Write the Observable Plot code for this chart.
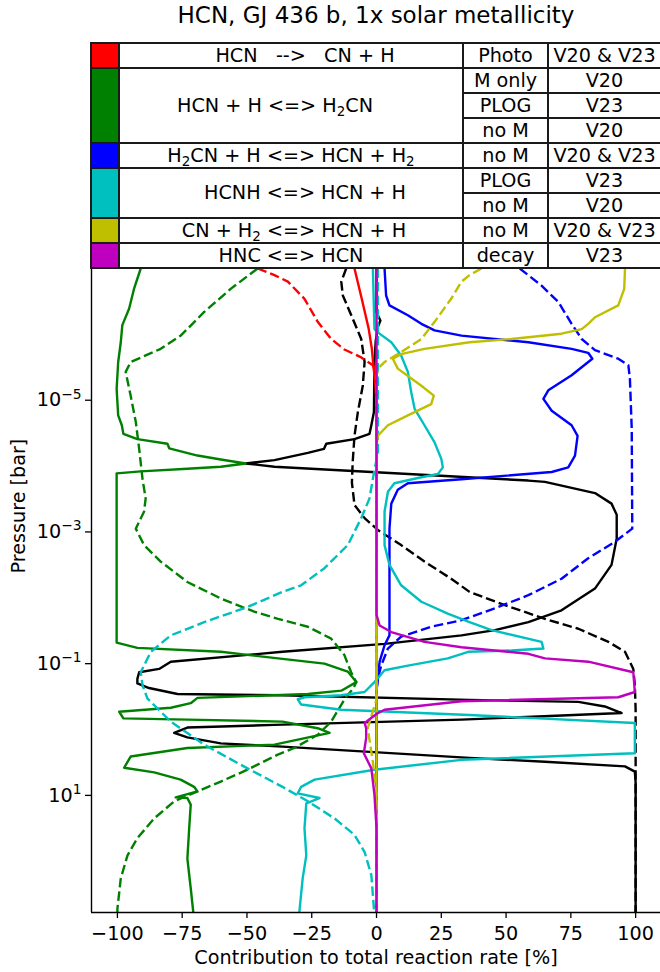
<!DOCTYPE html>
<html>
<head>
<meta charset="utf-8">
<script src="https://cdn.jsdelivr.net/npm/d3@7"></script>
<script src="https://cdn.jsdelivr.net/npm/@observablehq/plot@0.6"></script>
<style>
  html, body { margin:0; padding:0; background:#fff; }
  body { width:660px; height:972px; overflow:hidden; position:relative; font-family:"DejaVu Sans", sans-serif; color:#000; }
  #title { position:absolute; left:91px; width:570px; top:0; height:42px; text-align:center; font-size:23px; line-height:30px; }
  #legend { position:absolute; left:0; top:0; width:660px; height:270px; z-index:2; overflow:hidden; }
  .cell { position:absolute; box-sizing:border-box; border:2px solid #1a1a1a; display:flex; align-items:center; justify-content:center; font-size:19.2px; white-space:pre; background:#fff; }
  .cell span { display:inline-block; line-height:1; }
  .cell sub { font-size:70%; vertical-align:-0.28em; line-height:0; }
  #chart { position:absolute; left:0; top:268px; z-index:1; }
</style>
</head>
<body>
<div id="title">HCN, GJ 436 b, 1x solar metallicity</div>
<div id="legend"></div>
<div id="chart"></div>
<script>
// ---------------- legend table data ----------------
const reactionColors = ["#ff0000", "#008000", "#0000ff", "#00bfbf", "#bfbf00", "#bf00bf"];
const reactionLabels = [
  "HCN   -->   CN + H",
  "HCN + H <=> H<sub>2</sub>CN",
  "H<sub>2</sub>CN + H <=> HCN + H<sub>2</sub>",
  "HCNH <=> HCN + H",
  "CN + H<sub>2</sub> <=> HCN + H",
  "HNC <=> HCN"
];
const reactionRowSpans = [1, 3, 1, 2, 1, 1];
const rateTypes = ["Photo", "M only", "PLOG", "no M", "no M", "PLOG", "no M", "no M", "decay"];
const references = ["V20 & V23", "V20", "V23", "V20", "V20 & V23", "V23", "V20", "V20 & V23", "V23"];

// ---------------- profiles: [contribution %, log10 pressure (bar)] ----------------
const totalV20 = [[-11.7,-7.00],[-13.6,-6.80],[-13.0,-6.59],[-9.2,-6.24],[-5.9,-5.93],[-4.6,-5.58],[-5.3,-5.22],[-7.2,-4.82],[-8.5,-4.46],[-9.2,-4.06],[-9.5,-3.75],[-8.5,-3.41],[-4.6,-3.21],[0.5,-3.03],[9.5,-2.80],[18.5,-2.55],[28.8,-2.29],[35.9,-2.09],[49.5,-1.89],[65.0,-1.68],[77.9,-1.53],[89.5,-1.33],[95.9,-1.18],[99.1,-0.92],[99.7,-0.67],[100,-0.30],[100,2.78]];
const totalV23 = [[0,-7.00],[0,-6.34],[0.5,-6.29],[1.5,-6.21],[0.5,-6.11],[-0.3,-5.90],[-0.8,-5.58],[-1.0,-4.82],[-2.0,-4.62],[-2.7,-4.49],[-8.5,-4.41],[-19.4,-4.34],[-20.3,-4.26],[-26.5,-4.20],[-39.4,-4.09],[-50.5,-4.04],[-39.4,-3.99],[58.6,-3.78],[65.0,-3.76],[84.3,-3.59],[90.7,-3.43],[92.7,-3.26],[92.7,-2.90],[90.7,-2.50],[84.3,-2.14],[71.4,-1.81],[58.6,-1.63],[45.7,-1.51],[32.8,-1.43],[3.1,-1.30],[-36.3,-1.18],[-79.4,-1.03],[-83.9,-0.92],[-91.6,-0.87],[-92.3,-0.77],[-92.3,-0.70],[-87.8,-0.63],[-76.8,-0.54],[-36.3,-0.52],[35.9,-0.45],[77.9,-0.42],[88.1,-0.35],[94.6,-0.25],[32.8,-0.15],[-39.4,-0.07],[-73.0,-0.03],[-78.1,0.05],[-73.0,0.12],[-60.1,0.21],[-36.3,0.26],[35.9,0.43],[65.0,0.49],[95.9,0.56],[99.7,0.64],[100,0.80],[100,2.78]];
const photoV20 = [[-45.9,-7.00],[-39.4,-6.90],[-34.2,-6.80],[-27.8,-6.54],[-22.7,-6.19],[-17.5,-5.93],[-12.4,-5.77],[-5.9,-5.65],[-1.4,-5.53],[0,-5.38],[0,2.78]];
const photoV23 = [[-8.5,-7.00],[-5.7,-6.54],[-3.0,-6.08],[-1.8,-5.78],[-1.2,-5.53],[-0.4,-5.22],[0,-4.90],[0,2.78]];
const h2cnFormV20 = [[-45.9,-7.00],[-56.3,-6.69],[-66.5,-6.34],[-75.6,-5.98],[-83.3,-5.78],[-94.9,-5.58],[-96.8,-5.43],[-94.9,-5.07],[-92.9,-4.67],[-91.6,-4.26],[-90.3,-3.80],[-89.1,-3.51],[-89.7,-3.31],[-92.9,-3.05],[-89.7,-2.80],[-83.3,-2.55],[-73.0,-2.24],[-60.1,-1.99],[-47.2,-1.79],[-38.0,-1.68],[-26.5,-1.56],[-17.5,-1.38],[-12.4,-1.13],[-9.8,-0.87],[-7.8,-0.72],[-9.0,-0.62],[-11.7,-0.50],[-17.5,-0.12],[-22.7,0.08],[-31.7,0.28],[-38.1,0.38],[-49.8,0.61],[-60.1,0.79],[-69.1,0.94],[-78.1,1.09],[-85.8,1.35],[-92.3,1.65],[-96.1,1.91],[-98.7,2.26],[-100,2.72],[-100,2.78]];
const h2cnFormV23 = [[-91.0,-7.00],[-93.6,-6.69],[-95.5,-6.39],[-98.1,-6.14],[-98.7,-5.88],[-99.7,-5.58],[-100.3,-5.17],[-99.7,-4.77],[-98.3,-4.62],[-97.7,-4.49],[-92.3,-4.41],[-80.7,-4.34],[-80.0,-4.27],[-69.1,-4.16],[-60.1,-4.10],[-50.5,-4.04],[-60.1,-3.99],[-73.0,-3.96],[-91.0,-3.92],[-100.3,-3.89],[-100.3,-1.32],[-92.3,-1.24],[-60.1,-1.18],[-38.0,-1.08],[-20.1,-1.00],[-11.1,-0.88],[-7.8,-0.72],[-13.6,-0.59],[-26.5,-0.54],[-39.4,-0.52],[-69.1,-0.48],[-71.7,-0.40],[-79.4,-0.33],[-99.3,-0.27],[-97.7,-0.17],[-73.0,-0.15],[-36.3,-0.12],[-22.7,-0.02],[-18.1,0.05],[-39.4,0.23],[-73.0,0.28],[-94.9,0.41],[-97.4,0.58],[-85.8,0.65],[-75.6,0.76],[-70.4,0.87],[-69.1,0.94],[-77.5,1.03],[-73.0,1.04],[-71.7,1.14],[-72.3,1.50],[-73.0,1.96],[-71.7,2.41],[-70.7,2.78]];
const h2cnLossV20 = [[55.3,-7.00],[63.7,-6.74],[70.2,-6.49],[75.3,-6.16],[79.2,-5.93],[84.3,-5.76],[93.3,-5.63],[97.2,-5.53],[97.8,-5.32],[98.5,-4.56],[98.7,-3.05],[92.0,-2.85],[81.7,-2.60],[71.4,-2.29],[58.6,-2.04],[45.7,-1.84],[32.8,-1.66],[21.1,-1.56],[9.5,-1.41],[4.4,-1.23],[1.8,-0.97],[0.5,-0.77],[0,-0.60],[0,2.78]];
const h2cnLossV23 = [[3.1,-7.00],[3.7,-6.59],[5.0,-6.44],[12.1,-6.29],[17.3,-6.16],[22.4,-6.06],[32.8,-5.98],[58.6,-5.88],[75.3,-5.78],[81.7,-5.72],[83.3,-5.63],[75.3,-5.38],[66.3,-5.15],[64.4,-5.02],[67.6,-4.84],[75.3,-4.62],[77.6,-4.46],[76.6,-4.16],[74.0,-3.98],[67.6,-3.91],[32.8,-3.80],[12.1,-3.74],[8.2,-3.64],[5.7,-3.43],[5.0,-3.05],[5.0,-1.43],[3.1,-1.28],[1.2,-1.03],[0.5,-0.77],[0,-0.60],[0,2.78]];
const hcnhV20 = [[0.5,-7.00],[0.5,-4.20],[-1.4,-3.81],[-2.7,-3.51],[-5.9,-3.21],[-11.1,-2.80],[-20.1,-2.45],[-29.1,-2.19],[-36.3,-2.09],[-49.8,-1.86],[-66.5,-1.63],[-79.4,-1.43],[-87.1,-1.18],[-91.0,-0.87],[-90.3,-0.67],[-88.4,-0.47],[-79.4,-0.12],[-66.5,0.23],[-49.8,0.59],[-36.3,0.87],[-26.5,1.09],[-16.2,1.35],[-8.5,1.60],[-4.6,1.86],[-2.0,2.21],[-1.0,2.72],[-0.8,2.78]];
const hcnhV23 = [[-1.4,-7.00],[-0.8,-6.08],[0.5,-6.03],[5.7,-5.88],[9.5,-5.68],[12.1,-5.43],[13.4,-5.12],[14.7,-4.87],[18.5,-4.62],[22.4,-4.36],[25.0,-4.11],[25.6,-3.98],[23.7,-3.88],[17.3,-3.83],[6.9,-3.74],[4.4,-3.61],[3.1,-3.31],[3.1,-2.80],[5.0,-2.50],[9.5,-2.19],[17.3,-1.94],[27.5,-1.76],[35.9,-1.63],[44.4,-1.51],[63.7,-1.33],[64.4,-1.23],[52.1,-1.20],[35.4,-1.18],[27.5,-1.08],[12.1,-0.97],[3.1,-0.90],[-0.8,-0.72],[-4.6,-0.57],[-13.6,-0.52],[-27.8,-0.49],[-30.4,-0.46],[-29.1,-0.38],[-13.6,-0.30],[35.9,-0.22],[99.7,-0.10],[99.7,0.36],[32.8,0.46],[-0.8,0.61],[-23.9,0.76],[-29.1,0.87],[-30.4,0.97],[-22.0,1.04],[-27.1,1.12],[-27.8,1.50],[-27.1,1.91],[-28.5,2.26],[-29.7,2.74],[-29.8,2.78]];
const cnH2V20 = [[40.5,-7.00],[35.9,-6.90],[32.8,-6.80],[28.8,-6.54],[22.4,-6.19],[17.3,-5.93],[9.5,-5.73],[3.1,-5.58],[0.5,-5.48],[0,-5.35],[0,-0.45],[-1.4,-0.28],[-3.4,-0.02],[-1.4,0.49],[0,0.99],[0,2.78]];
const cnH2V23 = [[95.9,-7.00],[95.6,-6.69],[93.3,-6.44],[84.3,-6.26],[81.7,-6.16],[79.2,-6.08],[71.4,-6.01],[52.1,-5.93],[35.9,-5.88],[18.5,-5.78],[9.5,-5.70],[6.3,-5.63],[8.2,-5.48],[17.3,-5.22],[22.1,-5.07],[21.1,-4.94],[12.1,-4.77],[4.4,-4.62],[0.5,-4.46],[0,-4.30],[0,2.78]];
const hncV23 = [[0,-7.00],[0,-1.74],[1.2,-1.58],[5.7,-1.48],[18.5,-1.33],[32.8,-1.25],[58.6,-1.15],[65.0,-1.08],[81.7,-1.03],[99.1,-0.87],[99.7,-0.57],[93.3,-0.49],[32.8,-0.43],[3.1,-0.30],[0.5,-0.25],[-4.6,-0.10],[-4.0,-0.02],[-4.0,0.13],[-4.9,0.36],[-2.0,0.59],[-0.8,0.99],[0,1.49],[0,2.78]];

const xTicks = [-100, -75, -50, -25, 0, 25, 50, 75, 100];
const yTicks = [1e-5, 1e-3, 1e-1, 1e1];

// ---------------- legend table (HTML) ----------------
const colEdges = [91, 119, 463, 548, 661];
const tableTop = 43, rowH = 25;
const labelShift = [14, -16, 0, 14, 3, 0];
const legend = document.getElementById("legend");
function addCell(x0, x1, y0, y1, html, bg, shift) {
  const d = document.createElement("div");
  d.className = "cell";
  d.style.left = (x0 - 1) + "px";
  d.style.top = (y0 - 1) + "px";
  d.style.width = (x1 - x0 + 2) + "px";
  d.style.height = (y1 - y0 + 2) + "px";
  if (bg) d.style.background = bg;
  if (shift) {
    d.style.paddingLeft = (shift > 0 ? 2 * shift : 0) + "px";
    d.style.paddingRight = (shift < 0 ? -2 * shift : 0) + "px";
  }
  if (html) {
    const s = document.createElement("span");
    s.innerHTML = html;
    d.appendChild(s);
  }
  legend.appendChild(d);
}
let r = 0;
reactionRowSpans.forEach((span, i) => {
  const y0 = tableTop + r * rowH, y1 = tableTop + (r + span) * rowH;
  addCell(colEdges[0], colEdges[1], y0, y1, "", reactionColors[i]);
  addCell(colEdges[1], colEdges[2], y0, y1, reactionLabels[i], null, labelShift[i]);
  r += span;
});
rateTypes.forEach((t, k) => {
  const y0 = tableTop + k * rowH, y1 = y0 + rowH;
  addCell(colEdges[2], colEdges[3], y0, y1, t);
  addCell(colEdges[3], colEdges[4], y0, y1, references[k]);
});

// ---------------- chart ----------------
const K = "#000000";
const seriesStyles = [
  {values: totalV20, color: K, dashed: true},
  {values: totalV23, color: K, dashed: false},
  {values: photoV20, color: reactionColors[0], dashed: true},
  {values: photoV23, color: reactionColors[0], dashed: false},
  {values: h2cnFormV20, color: reactionColors[1], dashed: true},
  {values: h2cnFormV23, color: reactionColors[1], dashed: false},
  {values: h2cnLossV20, color: reactionColors[2], dashed: true},
  {values: h2cnLossV23, color: reactionColors[2], dashed: false},
  {values: hcnhV20, color: reactionColors[3], dashed: true},
  {values: hcnhV23, color: reactionColors[3], dashed: false},
  {values: cnH2V20, color: reactionColors[4], dashed: true},
  {values: cnH2V23, color: reactionColors[4], dashed: false},
  {values: hncV23, color: reactionColors[5], dashed: false}
];

const fmtPow = d => "10^" + Math.round(Math.log10(d));
const fmtX = d => d < 0 ? "\u2212" + Math.abs(d) : String(d);

const lineMarks = seriesStyles.map(s => Plot.line(s.values, {
  x: d => d[0],
  y: d => Math.pow(10, d[1]),
  stroke: s.color,
  strokeWidth: 2.4,
  strokeDasharray: s.dashed ? "9.5,4" : null,
  strokeLinejoin: "round",
  strokeLinecap: "butt",
  clip: true
}));

const FS = 19.2;
const chart = Plot.plot({
  width: 660,
  height: 704,
  marginTop: 0,
  marginBottom: 60,
  marginLeft: 91,
  marginRight: 0,
  style: {fontFamily: "DejaVu Sans, sans-serif", fontSize: FS + "px", background: "#fff", overflow: "visible", color: "#000"},
  x: {domain: [-110, 109.6]},
  y: {type: "log", domain: [1e-7, 600], reverse: true},
  marks: [
    ...lineMarks,
    Plot.ruleX([-110], {stroke: "#000", strokeWidth: 1.4}),
    Plot.ruleY([600], {stroke: "#000", strokeWidth: 1.4}),
    Plot.axisX({ticks: xTicks, tickFormat: fmtX, tickSize: 6, tickPadding: 8, label: null, strokeWidth: 1.3, fontSize: FS}),
    Plot.axisY({ticks: yTicks, tickFormat: fmtPow, tickSize: 6, tickPadding: 4, label: null, strokeWidth: 1.3, fontSize: FS}),
    Plot.text(["Contribution to total reaction rate [%]"], {text: d => d, frameAnchor: "bottom", dy: 51, fontSize: FS}),
    Plot.text(["Pressure [bar]"], {text: d => d, frameAnchor: "left", rotate: -90, dx: -73, dy: -17, fontSize: FS})
  ]
});

// render y tick labels as 10 with a superscript exponent
d3.select(chart).selectAll("text").each(function () {
  const t = this.textContent;
  if (/^10\^-?\d+$/.test(t)) {
    const exp = t.split("^")[1].replace("-", "\u2212");
    const el = d3.select(this);
    el.text("10");
    el.append("tspan").attr("dy", "-0.55em").attr("font-size", "0.72em").text(exp);
  }
});
document.getElementById("chart").appendChild(chart);
</script>
</body>
</html>
